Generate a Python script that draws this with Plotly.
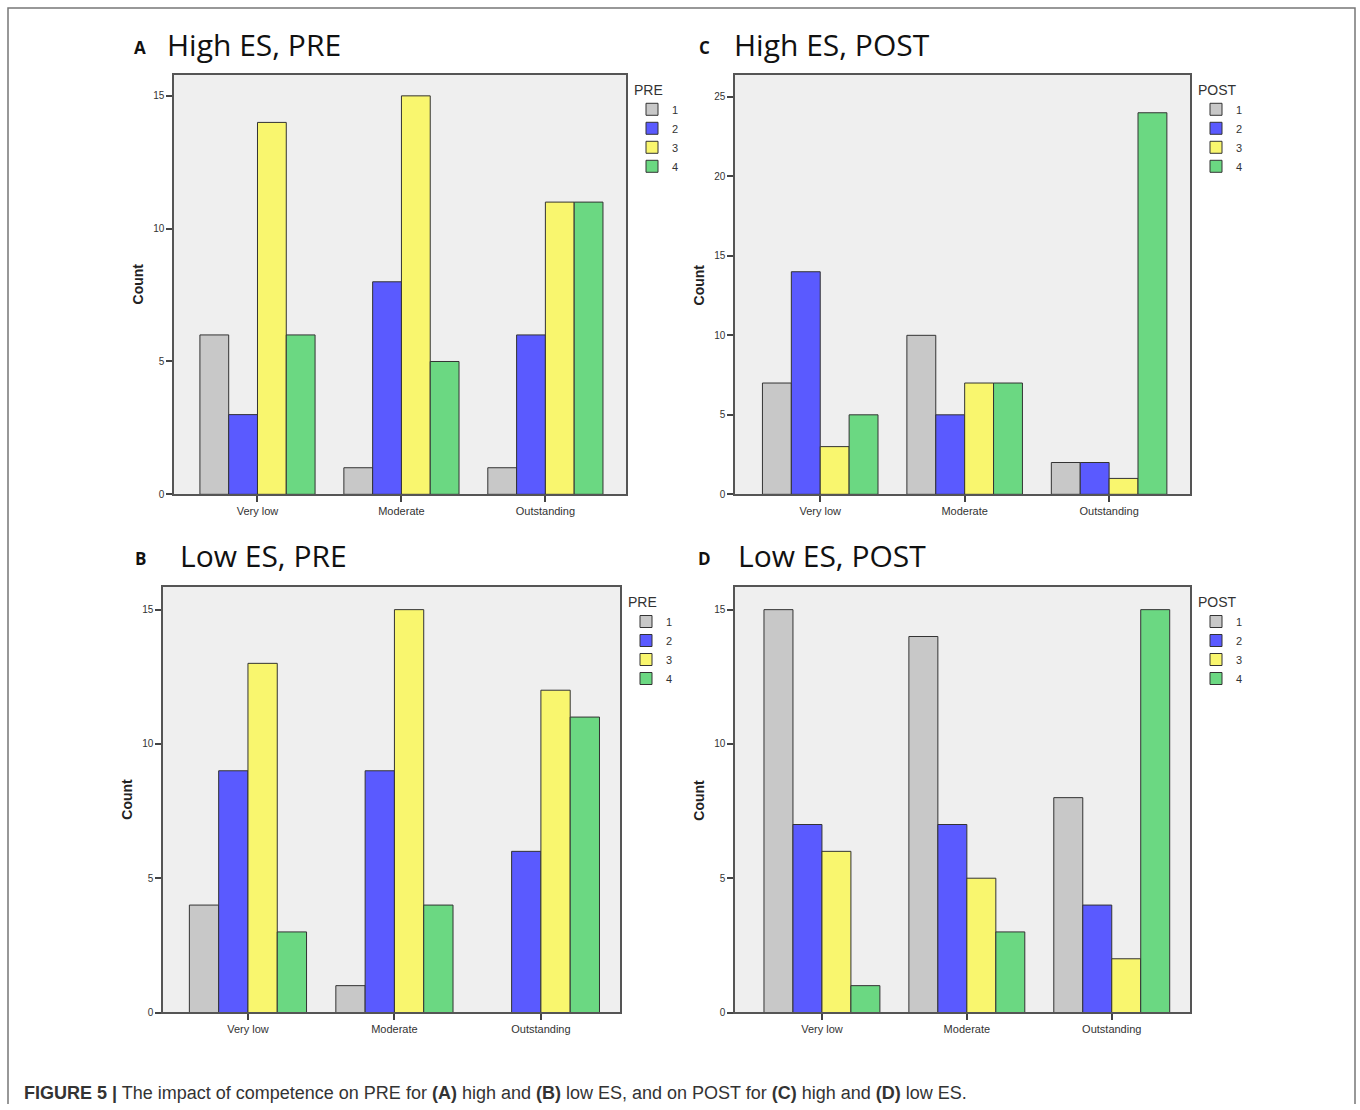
import plotly.graph_objects as go

W, H = 1360, 1110

categories = ["Very low", "Moderate", "Outstanding"]
series_names = ["1", "2", "3", "4"]
colors = ["#c8c8c8", "#5a5aff", "#f9f66e", "#6bd882"]

# counts for Very low, Moderate, Outstanding per series
high_pre = {"1": [6, 1, 1], "2": [3, 8, 6], "3": [14, 15, 11], "4": [6, 5, 11]}
high_post = {"1": [7, 10, 2], "2": [14, 5, 2], "3": [3, 7, 1], "4": [5, 7, 24]}
low_pre = {"1": [4, 1, 0], "2": [9, 9, 6], "3": [13, 15, 12], "4": [3, 4, 11]}
low_post = {"1": [15, 14, 8], "2": [7, 7, 4], "3": [6, 5, 2], "4": [1, 3, 15]}

y_ticks_15 = [0, 5, 10, 15]
y_ticks_25 = [0, 5, 10, 15, 20, 25]


def px_x(v):
    return v / W


def px_y(v):
    return 1 - v / H


panels = [
    dict(data=high_pre, ax="", xr=(174, 626), yr=(75, 497), ymax=15.8, ticks=y_ticks_15,
         letter="A", title="High ES, PRE", lx=140, tx=165, ty=45, leg="legend", legt="PRE",
         xrange=[-0.58, 2.56]),
    dict(data=high_post, ax="2", xr=(735, 1190), yr=(75, 497), ymax=26.4, ticks=y_ticks_25,
         letter="C", title="High ES, POST", lx=704, tx=732, ty=45, leg="legend2", legt="POST",
         xrange=[-0.59, 2.56]),
    dict(data=low_pre, ax="3", xr=(163, 620), yr=(590, 1018), ymax=15.85, ticks=y_ticks_15,
         letter="B", title="Low ES, PRE", lx=140, tx=178, ty=559, leg="legend3", legt="PRE",
         xrange=[-0.58, 2.54]),
    dict(data=low_post, ax="4", xr=(735, 1190), yr=(590, 1018), ymax=15.85, ticks=y_ticks_15,
         letter="D", title="Low ES, POST", lx=704, tx=736, ty=559, leg="legend4", legt="POST",
         xrange=[-0.6, 2.54]),
]

fig = go.Figure()
layout = dict(
    width=W, height=H,
    margin=dict(l=0, r=0, t=0, b=0),
    paper_bgcolor="white",
    plot_bgcolor="#efefef",
    barmode="group",
    bargap=0.2,
    bargroupgap=0,
    font=dict(family="Arial, Liberation Sans, sans-serif", color="#333"),
    annotations=[],
    shapes=[],
)

for p in panels:
    xa = "x" + p["ax"]
    ya = "y" + p["ax"]
    for i, s in enumerate(series_names):
        fig.add_trace(go.Bar(
            x=categories, y=p["data"][s], name=s,
            marker=dict(color=colors[i], line=dict(color="#333333", width=1)),
            xaxis=xa, yaxis=ya, legend=p["leg"], showlegend=True,
        ))
    x0, x1 = p["xr"]
    y0, y1 = p["yr"]
    layout["xaxis" + p["ax"]] = dict(
        domain=[px_x(x0), px_x(x1)], anchor=ya, range=p["xrange"],
        showline=True, linecolor="#555", linewidth=1.5, mirror=True,
        ticks="outside", ticklen=6, tickcolor="#444", tickwidth=1.5,
        tickfont=dict(size=11, color="#333"), showgrid=False, fixedrange=True,
    )
    layout["yaxis" + p["ax"]] = dict(
        domain=[px_y(y1), px_y(y0)], anchor=xa, range=[0, p["ymax"]],
        tickvals=p["ticks"], showline=True, linecolor="#555", linewidth=1.5, mirror=True,
        ticks="outside", ticklen=6, tickcolor="#444", tickwidth=1.5,
        tickfont=dict(size=10, color="#333"), showgrid=False, zeroline=False, fixedrange=True,
    )
    layout[p["leg"]] = dict(
        x=px_x(x1 + 6), y=px_y(y0 + 2), xanchor="left", yanchor="top",
        bgcolor="rgba(0,0,0,0)", tracegroupgap=0, itemwidth=30,
        title=dict(text=p["legt"], font=dict(size=14, color="#333"), side="top"),
        font=dict(size=11, color="#333"), itemclick=False, itemdoubleclick=False,
    )
    layout["annotations"].append(dict(
        x=px_x(p["lx"]), y=px_y(p["ty"] + 3), xref="paper", yref="paper",
        text="<b>" + p["letter"] + "</b>", showarrow=False, xanchor="center", yanchor="middle",
        font=dict(family="Open Sans, Arial, sans-serif", size=17, color="#111"),
    ))
    layout["annotations"].append(dict(
        x=px_x(p["tx"]), y=px_y(p["ty"]), xref="paper", yref="paper",
        text=p["title"], showarrow=False, xanchor="left", yanchor="middle",
        font=dict(family="Open Sans, Arial, sans-serif", size=30, color="#111"),
    ))
    layout["annotations"].append(dict(
        x=px_x(x0 - 36), y=px_y((y0 + y1) / 2), xref="paper", yref="paper",
        text="<b>Count</b>", showarrow=False, textangle=-90, xanchor="center", yanchor="middle",
        font=dict(family="Arial, Liberation Sans, sans-serif", size=14, color="#222"),
    ))

layout["annotations"].append(dict(
    x=px_x(22), y=px_y(1099), xref="paper", yref="paper",
    text="<b>FIGURE 5 |</b> The impact of competence on PRE for <b>(A)</b> high and <b>(B)</b> low ES, "
         "and on POST for <b>(C)</b> high and <b>(D)</b> low ES.",
    showarrow=False, xanchor="left", yanchor="middle",
    font=dict(family="Arial, Liberation Sans, sans-serif", size=18, color="#333"),
))

layout["shapes"].append(dict(
    type="path", xref="paper", yref="paper",
    path=f"M {px_x(8)},0 L {px_x(8)},{px_y(8)} L {px_x(1355)},{px_y(8)} L {px_x(1355)},0",
    line=dict(color="#777", width=1.5),
))

fig.update_layout(**layout)
fig.write_html("out.html")
